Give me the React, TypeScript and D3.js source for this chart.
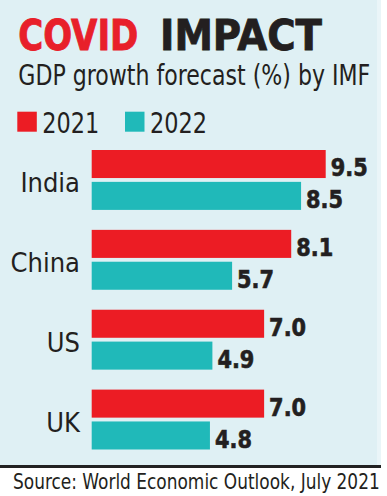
import React, { useLayoutEffect, useRef, useState } from "react";
import * as d3 from "d3";

const countries = ["India", "China", "US", "UK"];
const seriesKeys = ["2021", "2022"];
const values2021 = [9.5, 8.1, 7.0, 7.0];
const values2022 = [8.5, 5.7, 4.9, 4.8];
const seriesColors = ["#ec1c24", "#20b9b9"];

const W = 387;
const H = 496;
const FONT = "'DejaVu Sans Condensed', 'DejaVu Sans', sans-serif";
const INK = "#231f20";

type FitProps = {
  x: number;
  y: number;
  width: number;
  anchor?: "start" | "end";
  children: string;
  [k: string]: any;
};

function FitText({ x, y, width, anchor = "start", children, ...rest }: FitProps) {
  const ref = useRef<SVGTextElement>(null);
  const [sx, setSx] = useState(1);
  useLayoutEffect(() => {
    if (ref.current) {
      const w = ref.current.getComputedTextLength();
      if (w > 0) setSx(width / w);
    }
  }, [width, children]);
  return (
    <text ref={ref} x={0} y={0} textAnchor={anchor} transform={`translate(${x},${y}) scale(${sx},1)`} {...rest}>
      {children}
    </text>
  );
}

export default function App() {
  const x = d3.scaleLinear().domain([0, 9.5]).range([91.7, 325.7]);
  const y = d3.scaleBand<string>().domain(countries).range([150, 449.5]).paddingInner(0.25).paddingOuter(0);
  const ys = d3.scaleBand<string>().domain(seriesKeys).range([0, y.bandwidth()]).paddingInner(0.12).paddingOuter(0);
  const seriesValues = [values2021, values2022];

  return (
    <svg width={W} height={H} style={{ position: "absolute", left: 0, top: 0 }}>
      <rect x={0} y={0} width={W} height={H} fill="#ffffff" />
      <rect x={0} y={0} width={377} height={466} fill="#dff0f4" />
      <rect x={377} y={0} width={4} height={466} fill="#eaf5f8" />
      <rect x={0} y={465} width={381} height={3} fill="#222" />

      <FitText x={18.3} y={50} width={120} fontFamily={FONT} fontWeight={900} fontSize={43.5} fill="#e8202a"
        stroke="#e8202a" strokeWidth={0.8}>COVID</FitText>
      <FitText x={160} y={50} width={162} fontFamily={FONT} fontWeight={900} fontSize={43.5} fill={INK}
        stroke={INK} strokeWidth={0.8}>IMPACT</FitText>

      <FitText x={18.3} y={85} width={352} fontFamily={FONT} fontSize={29} fill={INK}>GDP growth forecast (%) by IMF</FitText>

      {seriesKeys.map((k, i) => {
        const lx = i === 0 ? 17.3 : 125;
        return (
          <g key={k}>
            <rect x={lx} y={111.7} width={19.5} height={20} fill={seriesColors[i]} />
            <FitText x={lx + 25} y={133.3} width={57} fontFamily={FONT} fontSize={28} fill={INK}>{k}</FitText>
          </g>
        );
      })}

      {countries.map((c, ci) => {
        const gy = y(c)!;
        return (
          <g key={c}>
            <text x={80} y={gy + y.bandwidth() / 2 + 12} textAnchor="end" fontFamily={FONT} fontSize={27} fill={INK}>{c}</text>
            {seriesKeys.map((k, si) => {
              const v = seriesValues[si][ci];
              const by = gy + ys(k)!;
              return (
                <g key={k}>
                  <rect x={x(0)} y={by} width={x(v) - x(0)} height={ys.bandwidth()} fill={seriesColors[si]} />
                  <FitText x={x(v) + 5} y={by + ys.bandwidth() - 2} width={37} fontFamily={FONT} fontWeight={700} fontSize={25}
                    fill={INK} stroke={INK} strokeWidth={0.6}>{v.toFixed(1)}</FitText>
                </g>
              );
            })}
          </g>
        );
      })}

      <FitText x={13} y={489.3} width={367} fontFamily={FONT} fontSize={22} fill={INK}>Source: World Economic Outlook, July 2021</FitText>
    </svg>
  );
}
